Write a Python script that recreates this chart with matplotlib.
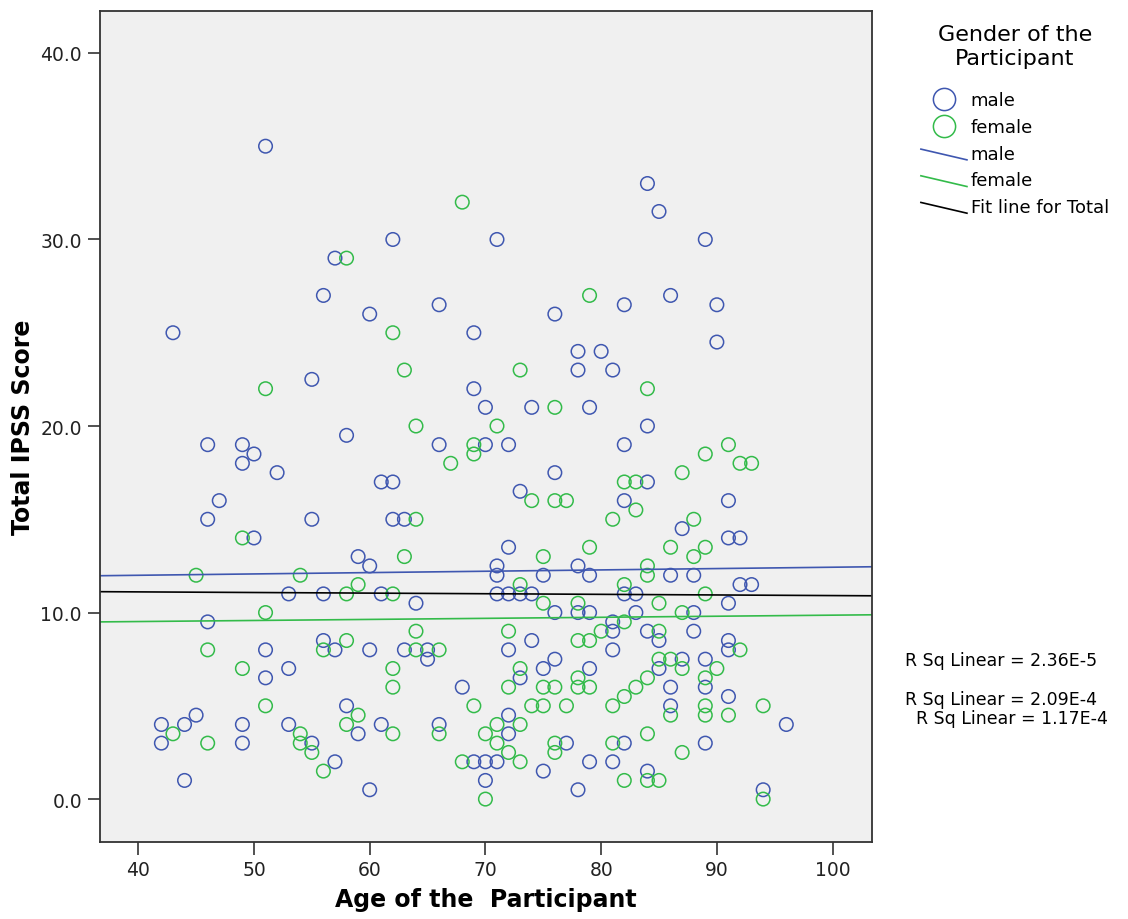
import numpy as np
import matplotlib.pyplot as plt
from matplotlib.lines import Line2D
from matplotlib.legend_handler import HandlerLine2D

# male participants: age, total IPSS score
male_age = [42, 42, 43, 44, 44, 45, 46, 46, 46, 47, 49, 49, 49, 49, 50, 50,
            51, 51, 51, 52, 53, 53, 53, 55, 55, 55, 56, 56, 56, 57, 57, 57,
            58, 58, 59, 59, 60, 60, 60, 60, 61, 61, 61, 62, 62, 62, 63, 63,
            64, 65, 65, 66, 66, 66, 68, 69, 69, 69, 70, 70, 70, 70, 71, 71,
            71, 71, 71, 72, 72, 72, 72, 72, 72, 73, 73, 73, 74, 74, 74, 75,
            75, 75, 76, 76, 76, 76, 77, 78, 78, 78, 78, 78, 79, 79, 79, 79,
            79, 80, 81, 81, 81, 81, 81, 82, 82, 82, 82, 82, 83, 83, 84, 84,
            84, 84, 84, 85, 85, 85, 86, 86, 86, 86, 87, 87, 88, 88, 88, 89,
            89, 89, 89, 90, 90, 91, 91, 91, 91, 91, 91, 92, 92, 93, 94, 96]
male_score = [4, 3, 25, 4, 1, 4.5, 19, 15, 9.5, 16, 19, 18, 4, 3, 18.5, 14,
              35, 8, 6.5, 17.5, 11, 7, 4, 22.5, 15, 3, 27, 11, 8.5, 29, 8, 2,
              19.5, 5, 13, 3.5, 26, 12.5, 8, 0.5, 17, 11, 4, 30, 17, 15, 15, 8,
              10.5, 8, 7.5, 26.5, 19, 4, 6, 25, 22, 2, 21, 19, 2, 1, 30, 12.5,
              12, 11, 2, 19, 13.5, 11, 8, 4.5, 3.5, 16.5, 11, 6.5, 21, 11, 8.5, 12,
              7, 1.5, 26, 17.5, 10, 7.5, 3, 24, 23, 12.5, 10, 0.5, 21, 12, 10, 7,
              2, 24, 23, 9.5, 9, 8, 2, 26.5, 19, 16, 11, 3, 11, 10, 33, 20,
              17, 9, 1.5, 31.5, 8.5, 7, 27, 12, 6, 5, 14.5, 7.5, 12, 10, 9, 30,
              7.5, 6, 3, 26.5, 24.5, 16, 14, 10.5, 8.5, 8, 5.5, 14, 11.5, 11.5, 0.5, 4]

# female participants
female_age = [43, 45, 46, 46, 49, 49, 51, 51, 51, 54, 54, 54, 55, 56, 56, 58,
              58, 58, 58, 59, 59, 62, 62, 62, 62, 62, 63, 63, 64, 64, 64, 64,
              66, 66, 67, 68, 68, 69, 69, 69, 70, 70, 71, 71, 71, 72, 72, 72,
              73, 73, 73, 73, 73, 74, 74, 75, 75, 75, 75, 76, 76, 76, 76, 76,
              77, 77, 78, 78, 78, 78, 79, 79, 79, 79, 80, 81, 81, 81, 82, 82,
              82, 82, 82, 83, 83, 83, 84, 84, 84, 84, 84, 84, 85, 85, 85, 85,
              86, 86, 86, 87, 87, 87, 87, 88, 88, 89, 89, 89, 89, 89, 89, 90,
              91, 91, 92, 92, 93, 94, 94]
female_score = [3.5, 12, 8, 3, 14, 7, 22, 10, 5, 12, 3.5, 3, 2.5, 8, 1.5, 29,
                11, 8.5, 4, 11.5, 4.5, 25, 11, 7, 6, 3.5, 23, 13, 20, 15, 9, 8,
                8, 3.5, 18, 32, 2, 19, 18.5, 5, 3.5, 0, 20, 4, 3, 9, 6, 2.5,
                23, 11.5, 7, 4, 2, 16, 5, 13, 10.5, 6, 5, 21, 16, 6, 3, 2.5,
                16, 5, 10.5, 8.5, 6.5, 6, 27, 13.5, 8.5, 6, 9, 15, 5, 3, 17, 11.5,
                9.5, 5.5, 1, 17, 15.5, 6, 22, 12.5, 12, 6.5, 3.5, 1, 10.5, 9, 7.5, 1,
                13.5, 7.5, 4.5, 17.5, 10, 7, 2.5, 15, 13, 18.5, 13.5, 11, 6.5, 5, 4.5, 7,
                19, 4.5, 18, 8, 18, 5, 0]

# fit lines (intercept, slope) and R squared labels
fit_male = (11.71, 0.0072)
fit_female = (9.29, 0.0057)
fit_total = (11.24, -0.0033)
r2_labels = ["R Sq Linear = 2.36E-5", "R Sq Linear = 2.09E-4", "R Sq Linear = 1.17E-4"]

blue = "#3f57b0"
green = "#33bb4a"


class DiagonalHandler(HandlerLine2D):
    def create_artists(self, legend, orig_handle, xdescent, ydescent,
                       width, height, fontsize, trans):
        line = Line2D([-xdescent, -xdescent + width],
                      [-ydescent + height * 0.75, -ydescent - height * 0.1],
                      color=orig_handle.get_color(), lw=orig_handle.get_linewidth())
        line.set_transform(trans)
        return [line]


def main():
    plt.rcParams["font.family"] = "DejaVu Sans"
    fig = plt.figure(figsize=(11.28, 9.2), dpi=100)
    ax = fig.add_axes([0.0887, 0.0837, 0.6843, 0.9033])
    ax.set_facecolor("#f0f0f0")

    ax.scatter(male_age, male_score, s=95, facecolors="none", edgecolors=blue, linewidths=1.1)
    ax.scatter(female_age, female_score, s=95, facecolors="none", edgecolors=green, linewidths=1.1)

    ax.set_xlim(36.7, 103.4)
    ax.set_ylim(-2.3, 42.25)
    xs = np.array(ax.get_xlim())
    for (b0, b1), c in [(fit_male, blue), (fit_female, green), (fit_total, "black")]:
        ax.plot(xs, b0 + b1 * xs, color=c, lw=1.2)

    ax.set_xticks([40, 50, 60, 70, 80, 90, 100])
    ax.set_yticks([0, 10, 20, 30, 40])
    ax.set_yticklabels(["0.0", "10.0", "20.0", "30.0", "40.0"])
    ax.tick_params(labelsize=13.5, length=9, width=1.2, color="#333333", labelcolor="#222222", pad=4)
    for s in ax.spines.values():
        s.set_color("#333333")
        s.set_linewidth(1.3)

    ax.set_xlabel("Age of the  Participant", fontsize=17, fontweight="bold", labelpad=6)
    ax.set_ylabel("Total IPSS Score", fontsize=17, fontweight="bold", labelpad=4)

    handles = [
        Line2D([], [], ls="none", marker="o", ms=16, mfc="none", mec=blue, mew=1.1),
        Line2D([], [], ls="none", marker="o", ms=16, mfc="none", mec=green, mew=1.1),
        Line2D([], [], color=blue, lw=1.2),
        Line2D([], [], color=green, lw=1.2),
        Line2D([], [], color="black", lw=1.2),
    ]
    labels = ["male", "female", "male", "female", "Fit line for Total"]
    handler = DiagonalHandler()
    leg = fig.legend(handles, labels, loc="upper left", bbox_to_anchor=(0.802, 0.99),
                     frameon=False, fontsize=13, title="Gender of the\nParticipant",
                     title_fontsize=16, handlelength=2.55, handletextpad=0.2,
                     labelspacing=0.48,
                     handler_map={handles[2]: handler, handles[3]: handler, handles[4]: handler})
    leg.get_title().set_multialignment("center")
    leg._legend_box.align = "center"
    leg._legend_box.sep = 17

    fig.text(0.802, 0.2765, r2_labels[0], fontsize=12.5)
    fig.text(0.802, 0.2335, r2_labels[1], fontsize=12.5)
    fig.text(0.812, 0.2135, r2_labels[2], fontsize=12.5)

    fig.savefig("out.png", dpi=100)


if __name__ == "__main__":
    main()
